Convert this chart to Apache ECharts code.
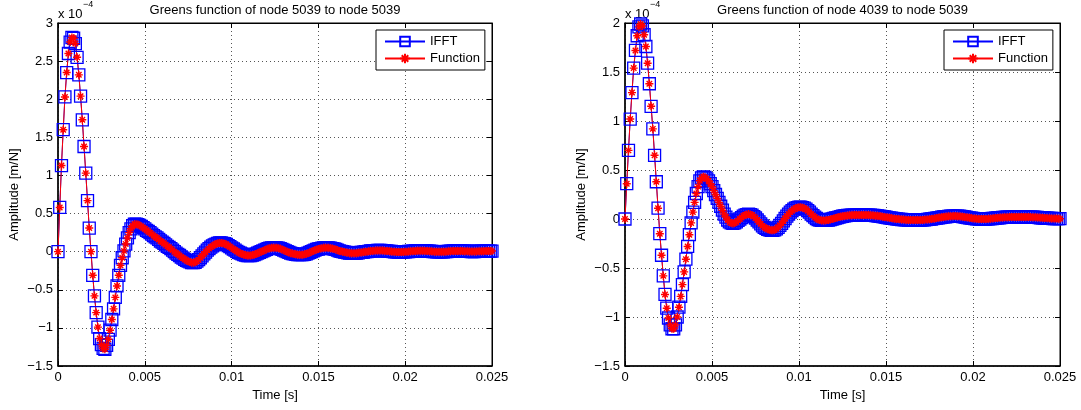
<!DOCTYPE html>
<html>
<head>
<meta charset="utf-8">
<script src="https://cdn.jsdelivr.net/npm/echarts@6/dist/echarts.min.js"></script>
<style>
  html, body { margin: 0; padding: 0; background: #fff; }
  #chart { width: 1081px; height: 410px; }
</style>
</head>
<body>
<div id="chart"></div>
<script>
// Impulse responses sampled every 0.1 ms, amplitudes in units of 1e-4 m/N.
const SAMPLE_STEP = 1e-4;

const xTicks = [0, 0.005, 0.01, 0.015, 0.02, 0.025];
const leftYTicks = [-1.5, -1, -0.5, 0, 0.5, 1, 1.5, 2, 2.5, 3];
const rightYTicks = [-1.5, -1, -0.5, 0, 0.5, 1, 1.5, 2];

const leftTitle = 'Greens function of node 5039 to node 5039';
const rightTitle = 'Greens function of node 4039 to node 5039';
const seriesNames = ['IFFT', 'Function'];

// node 5039 -> node 5039 (IFFT and analytic function coincide at this scale)
const response5039 = [
  0, 0.58, 1.13, 1.60, 2.03, 2.35, 2.60, 2.75, 2.81, 2.80,
  2.73, 2.55, 2.32, 2.04, 1.73, 1.38, 1.03, 0.67, 0.31, 0.00,
  -0.31, -0.58, -0.80, -0.99, -1.14, -1.22, -1.27, -1.28, -1.23, -1.15,
  -1.03, -0.89, -0.75, -0.60, -0.45, -0.31, -0.18, -0.08, 0.01, 0.10,
  0.18, 0.25, 0.30, 0.34, 0.36, 0.36, 0.355, 0.345, 0.33, 0.315,
  0.30, 0.28, 0.265, 0.25, 0.23, 0.21, 0.195, 0.18, 0.16, 0.14,
  0.125, 0.11, 0.09, 0.07, 0.055, 0.04, 0.02, 0.00, -0.02, -0.035,
  -0.05, -0.07, -0.085, -0.10, -0.115, -0.125, -0.135, -0.145, -0.145, -0.14,
  -0.125, -0.105, -0.08, -0.055, -0.03, -0.005, 0.02, 0.04, 0.06, 0.075,
  0.09, 0.10, 0.11, 0.115, 0.115, 0.11, 0.105, 0.095, 0.08, 0.065,
  0.05, 0.035, 0.02, 0.005, -0.01, -0.02, -0.03, -0.04, -0.045, -0.05,
  -0.05, -0.05, -0.045, -0.04, -0.03, -0.02, -0.01, 0.00, 0.01, 0.02,
  0.03, 0.04, 0.045, 0.05, 0.05, 0.05, 0.05, 0.045, 0.04, 0.03,
  0.02, 0.01, 0.00, -0.01, -0.02, -0.025, -0.03, -0.035, -0.04, -0.04,
  -0.04, -0.04, -0.035, -0.03, -0.02, -0.01, 0.00, 0.01, 0.02, 0.03,
  0.035, 0.04, 0.045, 0.05, 0.05, 0.05, 0.05, 0.045, 0.04, 0.035,
  0.03, 0.02, 0.01, 0.005, 0.00, -0.005, -0.01, -0.015, -0.02, -0.02,
  -0.02, -0.02, -0.02, -0.015, -0.01, -0.01, -0.005, 0.00, 0.00, 0.005,
  0.01, 0.01, 0.012, 0.014, 0.015, 0.015, 0.015, 0.014, 0.012, 0.01,
  0.008, 0.005, 0.003, 0.00, -0.002, -0.004, -0.005, -0.005, -0.005, -0.004,
  -0.002, 0.00, 0.002, 0.004, 0.006, 0.008, 0.01, 0.011, 0.012, 0.012,
  0.012, 0.011, 0.01, 0.008, 0.006, 0.004, 0.002, 0.00, -0.001, -0.002,
  -0.002, -0.002, -0.001, 0.00, 0.002, 0.004, 0.006, 0.008, 0.009, 0.01,
  0.01, 0.01, 0.009, 0.008, 0.007, 0.005, 0.004, 0.003, 0.002, 0.002,
  0.002, 0.003, 0.004, 0.005, 0.006, 0.007, 0.008, 0.008, 0.008, 0.008, 0.008
];

// node 4039 -> node 5039
const response4039 = [
  0, 0.36, 0.70, 1.02, 1.29, 1.54, 1.72, 1.87, 1.96, 1.99,
  1.97, 1.88, 1.76, 1.59, 1.38, 1.15, 0.92, 0.65, 0.38, 0.11,
  -0.15, -0.37, -0.58, -0.77, -0.91, -1.01, -1.08, -1.12, -1.12, -1.08,
  -1.00, -0.90, -0.79, -0.67, -0.54, -0.41, -0.28, -0.16, -0.04, 0.07,
  0.17, 0.26, 0.33, 0.39, 0.42, 0.43, 0.425, 0.41, 0.39, 0.36,
  0.33, 0.29, 0.25, 0.21, 0.17, 0.13, 0.09, 0.05, 0.02, -0.01,
  -0.03, -0.04, -0.045, -0.04, -0.03, -0.015, 0.00, 0.015, 0.03, 0.04,
  0.045, 0.05, 0.045, 0.04, 0.025, 0.01, -0.01, -0.03, -0.05, -0.07,
  -0.085, -0.095, -0.105, -0.11, -0.115, -0.115, -0.11, -0.10, -0.085, -0.065,
  -0.045, -0.02, 0.005, 0.03, 0.05, 0.07, 0.085, 0.10, 0.11, 0.115,
  0.12, 0.12, 0.115, 0.11, 0.10, 0.085, 0.07, 0.05, 0.035, 0.02,
  0.005, -0.005, -0.01, -0.015, -0.015, -0.015, -0.01, -0.01, -0.005, 0.00,
  0.005, 0.01, 0.015, 0.02, 0.025, 0.028, 0.031, 0.034, 0.036, 0.038,
  0.039, 0.04, 0.04, 0.04, 0.04, 0.04, 0.04, 0.04, 0.04, 0.04,
  0.04, 0.039, 0.038, 0.036, 0.034, 0.032, 0.03, 0.027, 0.024, 0.021,
  0.018, 0.015, 0.012, 0.009, 0.006, 0.003, 0.001, -0.001, -0.003, -0.005,
  -0.006, -0.008, -0.009, -0.01, -0.01, -0.011, -0.011, -0.011, -0.011, -0.01,
  -0.01, -0.009, -0.008, -0.006, -0.004, -0.002, 0.00, 0.003, 0.006, 0.009,
  0.012, 0.015, 0.018, 0.021, 0.023, 0.025, 0.027, 0.028, 0.029, 0.03,
  0.03, 0.029, 0.028, 0.026, 0.024, 0.021, 0.018, 0.015, 0.012, 0.009,
  0.006, 0.004, 0.002, 0.001, 0.00, 0.00, 0.00, 0.00, 0.001, 0.002,
  0.003, 0.005, 0.007, 0.009, 0.011, 0.013, 0.015, 0.016, 0.017, 0.018,
  0.019, 0.02, 0.02, 0.02, 0.02, 0.02, 0.02, 0.02, 0.02, 0.02,
  0.02, 0.02, 0.02, 0.02, 0.019, 0.018, 0.017, 0.016, 0.015, 0.013,
  0.012, 0.01, 0.009, 0.008, 0.007, 0.006, 0.005, 0.004, 0.004, 0.003, 0.003
];

const FONT = '"Liberation Sans", Arial, Helvetica, sans-serif';
const ASTERISK = 'path://M5,0L5,10M0,5L10,5M1.6,1.6L8.4,8.4M1.6,8.4L8.4,1.6';

const panels = [
  { left: 58, width: 434, title: leftTitle, data: response5039, yTicks: leftYTicks },
  { left: 625, width: 435, title: rightTitle, data: response4039, yTicks: rightYTicks }
];
const GRID_TOP = 23, GRID_HEIGHT = 343;

function fmt(v) {
  const s = String(+v.toFixed(6));
  return s.charAt(0) === '-' ? '\u2212' + s.slice(1) : s;
}

const toPairs = arr => arr.map((v, i) => [i * SAMPLE_STEP, v]);

const option = {
  animation: false,
  backgroundColor: '#fff',
  textStyle: { fontFamily: FONT },
  grid: [],
  xAxis: [],
  yAxis: [],
  series: [],
  legend: [],
  graphic: []
};

panels.forEach((p, g) => {
  option.grid.push({
    left: p.left, top: GRID_TOP, width: p.width, height: GRID_HEIGHT,
    show: true, borderColor: '#000', borderWidth: 1, backgroundColor: '#fff'
  });
  const xMin = xTicks[0], xMax = xTicks[xTicks.length - 1];
  const yMin = p.yTicks[0], yMax = p.yTicks[p.yTicks.length - 1];
  const tick = { show: true, inside: true, length: 5, lineStyle: { color: '#000', width: 1 } };
  const line = { show: true, onZero: false, lineStyle: { color: '#000', width: 1.5 } };

  option.xAxis.push({
    type: 'value', gridIndex: g, position: 'bottom',
    min: xMin, max: xMax, interval: xTicks[1] - xTicks[0],
    axisLine: line, axisTick: tick,
    axisLabel: { color: '#000', fontSize: 13, fontFamily: FONT, margin: 5, formatter: fmt },
    splitLine: { show: true, lineStyle: { color: '#555', width: 1, type: [1, 3] } },
    name: 'Time [s]', nameLocation: 'middle', nameGap: 20,
    nameTextStyle: { color: '#000', fontSize: 13, fontFamily: FONT }
  });
  option.xAxis.push({
    type: 'value', gridIndex: g, position: 'top',
    min: xMin, max: xMax, interval: xTicks[1] - xTicks[0],
    axisLine: { show: true, onZero: false, lineStyle: { color: '#000', width: 1 } },
    axisTick: tick, axisLabel: { show: false }, splitLine: { show: false }
  });
  option.yAxis.push({
    type: 'value', gridIndex: g, position: 'left',
    min: yMin, max: yMax, interval: 0.5,
    axisLine: line, axisTick: tick,
    axisLabel: { color: '#000', fontSize: 13, fontFamily: FONT, margin: 5, formatter: fmt },
    splitLine: { show: true, lineStyle: { color: '#555', width: 1, type: [1, 3] } },
    name: 'Amplitude [m/N]', nameLocation: 'middle', nameGap: 37,
    nameTextStyle: { color: '#000', fontSize: 13, fontFamily: FONT }
  });
  option.yAxis.push({
    type: 'value', gridIndex: g, position: 'right',
    min: yMin, max: yMax, interval: 0.5,
    axisLine: { show: true, onZero: false, lineStyle: { color: '#000', width: 1 } },
    axisTick: tick, axisLabel: { show: false }, splitLine: { show: false }
  });

  const pts = toPairs(p.data);
  option.series.push({
    name: seriesNames[0], type: 'line', xAxisIndex: 2 * g, yAxisIndex: 2 * g,
    data: pts, clip: false,
    symbol: 'rect', symbolSize: 12,
    itemStyle: { color: 'rgba(0,0,0,0)', borderColor: '#0000ff', borderWidth: 1.3 },
    lineStyle: { color: '#0000ff', width: 1 },
    emphasis: { disabled: true }
  });
  option.series.push({
    name: seriesNames[1], type: 'line', xAxisIndex: 2 * g, yAxisIndex: 2 * g,
    data: pts, clip: false,
    symbol: ASTERISK, symbolSize: 8,
    itemStyle: { color: '#ff0000', borderColor: '#ff0000', borderWidth: 1.4 },
    lineStyle: { color: '#ff0000', width: 1 },
    emphasis: { disabled: true }
  });

  option.legend.push({
    orient: 'vertical',
    left: p.left + p.width - 116, top: 30,
    data: seriesNames,
    itemWidth: 40, itemHeight: 12, itemGap: 4,
    padding: [5, 5, 5, 8],
    backgroundColor: '#fff', borderColor: '#000', borderWidth: 1, borderRadius: 0,
    textStyle: { color: '#000', fontSize: 13, fontFamily: FONT },
    selectedMode: false
  });

  option.graphic.push({
    type: 'text', x: p.left + p.width / 2, y: 10, silent: true,
    style: { text: p.title, align: 'center', verticalAlign: 'middle',
             font: '13px ' + FONT, fill: '#000' }
  });
  option.graphic.push({
    type: 'text', x: p.left, y: 14, silent: true,
    style: { text: 'x 10', align: 'left', verticalAlign: 'middle',
             font: '13px ' + FONT, fill: '#000' }
  });
  option.graphic.push({
    type: 'text', x: p.left + 25, y: 5, silent: true,
    style: { text: '\u22124', align: 'left', verticalAlign: 'middle',
             font: '9px ' + FONT, fill: '#000' }
  });
});

const chart = echarts.init(document.getElementById('chart'), null, { renderer: 'canvas' });
chart.setOption(option);
</script>
</body>
</html>
